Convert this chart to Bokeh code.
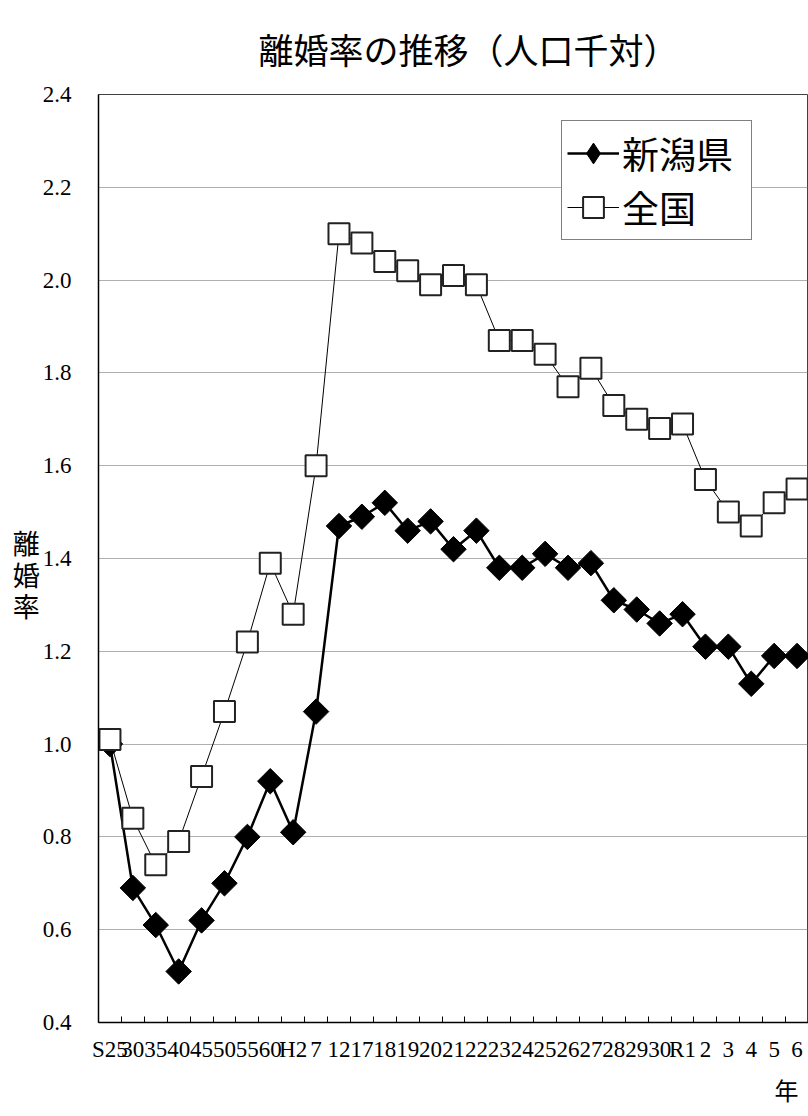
import numpy as np
from bokeh.plotting import figure
from bokeh.models import (FixedTicker, PrintfTickFormatter, Legend, LegendItem,
                          Title, Range1d, ColumnDataSource)
from bokeh.embed import file_html
from bokeh.resources import INLINE

# ---- data ----
years = ["S25", "30", "35", "40", "45", "50", "55", "60", "H2", "7", "12", "17",
         "18", "19", "20", "21", "22", "23", "24", "25", "26", "27", "28", "29",
         "30", "R1", "2", "3", "4", "5", "6"]
niigata = [1.00, 0.69, 0.61, 0.51, 0.62, 0.70, 0.80, 0.92, 0.81, 1.07, 1.47, 1.49,
           1.52, 1.46, 1.48, 1.42, 1.46, 1.38, 1.38, 1.41, 1.38, 1.39, 1.31, 1.29,
           1.26, 1.28, 1.21, 1.21, 1.13, 1.19, 1.19]
national = [1.01, 0.84, 0.74, 0.79, 0.93, 1.07, 1.22, 1.39, 1.28, 1.60, 2.10, 2.08,
            2.04, 2.02, 1.99, 2.01, 1.99, 1.87, 1.87, 1.84, 1.77, 1.81, 1.73, 1.70,
            1.68, 1.69, 1.57, 1.50, 1.47, 1.52, 1.55]
y_ticks = [0.4, 0.6, 0.8, 1.0, 1.2, 1.4, 1.6, 1.8, 2.0, 2.2, 2.4]
series_names = ["新潟県", "全国"]
title_text = "離婚率の推移（人口千対）"
y_label = "\n離\n婚\n率"
x_label = "年"

xs = list(range(len(years)))
src = ColumnDataSource(dict(x=xs, year=years, niigata=niigata, national=national))

CJK = "Noto Sans CJK JP"
SERIF = "Liberation Serif"

p = figure(width=808, height=1112, output_backend="svg", toolbar_location=None,
           x_range=Range1d(-0.5, len(years) - 0.5),
           y_range=Range1d(y_ticks[0], y_ticks[-1]),
           min_border_left=98, min_border_right=0, min_border_top=93,
           min_border_bottom=90)

p.background_fill_color = "white"
p.border_fill_color = "white"
p.outline_line_color = "#404040"
p.outline_line_width = 1

# title
p.title.text = title_text
p.title.text_font = CJK
p.title.text_font_size = "35px"
p.title.text_font_style = "normal"
p.title.text_color = "black"
p.title.align = "left"
p.title.offset = 160
p.title.standoff = 41

# x axis
xa = p.xaxis[0]
xa.ticker = FixedTicker(ticks=xs, minor_ticks=[i - 0.5 for i in range(len(years) + 1)])
xa.major_label_overrides = {i: y for i, y in enumerate(years)}
xa.major_tick_in = 0
xa.major_tick_out = 0
xa.minor_tick_in = 6
xa.minor_tick_out = 0
xa.minor_tick_line_color = "black"
xa.axis_line_color = "black"
xa.axis_line_width = 1.5
xa.major_label_text_font = SERIF
xa.major_label_text_font_size = "23px"
xa.major_label_text_color = "black"
xa.major_label_standoff = 14

# y axis
ya = p.yaxis[0]
ya.ticker = FixedTicker(ticks=y_ticks)
ya.formatter = PrintfTickFormatter(format="%.1f")
ya.major_tick_in = 0
ya.major_tick_out = 0
ya.minor_tick_line_color = None
ya.axis_line_color = "black"
ya.axis_line_width = 1.5
ya.major_label_text_font = SERIF
ya.major_label_text_font_size = "23px"
ya.major_label_text_color = "black"
ya.major_label_standoff = 27
ya.axis_label = y_label
ya.axis_label_orientation = "horizontal"
ya.axis_label_text_font = CJK
ya.axis_label_text_font_size = "27px"
ya.axis_label_text_font_style = "normal"
ya.axis_label_text_color = "black"
ya.axis_label_text_line_height = 0.8
ya.axis_label_standoff = 0

p.xgrid.visible = False
p.ygrid.grid_line_color = "#606060"
p.ygrid.grid_line_dash = "1 1"
p.ygrid.grid_line_width = 1

# series
l1 = p.line("x", "niigata", source=src, line_color="black", line_width=2.5)
s1 = p.scatter("x", "niigata", source=src, marker="square", angle=np.pi / 4, size=18,
               fill_color="black", line_color="black")
l2 = p.line("x", "national", source=src, line_color="black", line_width=1)
s2 = p.scatter("x", "national", source=src, marker="square", size=21,
               fill_color="white", line_color="#222222", line_width=2)
# hidden twin of the Niigata markers, used only for a diamond legend key
d1 = p.scatter("x", "niigata", source=src, marker="diamond", fill_color="black",
               line_color="black", visible=False)

legend = Legend(items=[LegendItem(label=series_names[0], renderers=[l1, d1]),
                       LegendItem(label=series_names[1], renderers=[l2, s2])],
                location=(463, 782))
legend.label_text_font = CJK
legend.label_text_font_size = "37px"
legend.label_text_color = "black"
legend.glyph_width = 52
legend.glyph_height = 54
legend.label_standoff = 3
legend.label_width = 124
legend.padding = 5
legend.spacing = 0
legend.margin = 0
legend.border_line_color = "black"
legend.border_line_width = 1
legend.background_fill_color = "white"
legend.background_fill_alpha = 1
p.add_layout(legend)

# x label
p.add_layout(Title(text=x_label, align="right", offset=10, text_font=CJK,
                   text_font_size="24px", text_font_style="normal",
                   text_color="black", standoff=11), "below")

open("out.html", "w").write(file_html(p, INLINE))
